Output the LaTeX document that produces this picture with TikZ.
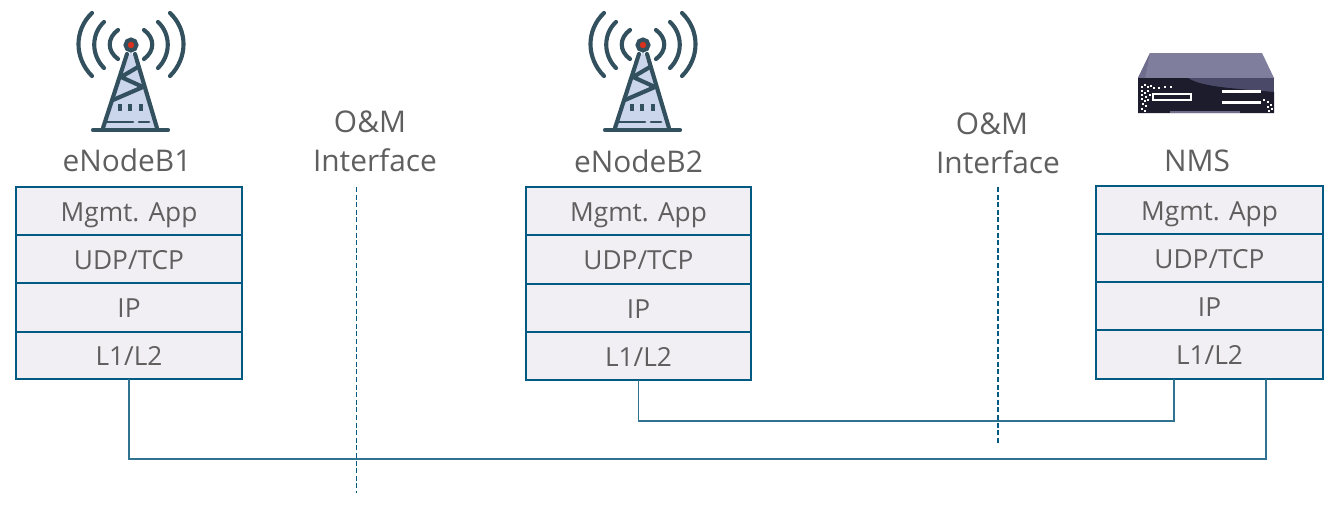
\documentclass[tikz,border=0pt]{standalone}
\usepackage{fontspec}
\setmainfont{Open Sans}
\definecolor{edge}{HTML}{005A82}
\definecolor{wire}{HTML}{2F7391}
\definecolor{ink}{HTML}{5F5F5F}
\definecolor{cellfill}{HTML}{F1EFF3}
\definecolor{mast}{HTML}{33505F}
\definecolor{mastfill}{HTML}{CBD5EC}
\definecolor{lamp}{HTML}{D8321E}
\definecolor{srvtop}{HTML}{7F7E9C}
\definecolor{srvtopb}{HTML}{6E6D8E}
\definecolor{srvdark}{HTML}{1C1C2C}
\definecolor{srvglow}{HTML}{4A4A68}
\tikzset{
  x=0.75pt,y=-0.75pt,
  cell/.style={draw=edge,line width=1.9pt,outer sep=0pt,fill=cellfill,text=ink,font=\fontsize{19.7pt}{21pt}\selectfont,inner sep=0pt,anchor=north west,text height=15.6pt,text depth=0pt},
  caption/.style={text=ink,font=\fontsize{22.4pt}{25pt}\selectfont,inner sep=0pt,anchor=center},
  link/.style={draw=wire,line width=0.9pt},
  cut/.style={draw=edge,line width=0.8pt,dash pattern=on 3.7pt off 2pt},
  mastline/.style={draw=mast,line width=3.1pt,line cap=round,line join=round},
  pics/tower/.style={code={
    \fill[mastfill] (131,50)--(157,128)--(103,128)--cycle;
    \foreach \s in {1,-1}{
      \draw[mastline] ({131-\s*39},13) .. controls ({131-\s*57},30) and ({131-\s*57},58) .. ({131-\s*39},76);
      \draw[mastline] ({131-\s*27},22) .. controls ({131-\s*40},34) and ({131-\s*40},55) .. ({131-\s*27},68);
      \draw[mastline] ({131-\s*13},30) .. controls ({131-\s*24},38) and ({131-\s*24},51) .. ({131-\s*13},59);
    }
    \draw[mastline] (127,54)--(103,128);
    \draw[mastline] (135,54)--(157,128);
    \draw[mastline] (93,130)--(168,130);
    \draw[mastline] (138,67)--(121,77)--(143,87)--(113,100);
    \draw[mastline,line cap=butt,line width=3pt] (120,104)--(120,111);
    \draw[mastline,line cap=butt,line width=3pt] (130,104)--(130,111);
    \draw[mastline,line cap=butt,line width=3pt] (141,104)--(141,111);
    \draw[mastline,line width=2.2pt] (107,122)--(133,122);
    \draw[mastline,line width=2.2pt] (139,122)--(149,122);
    \draw[draw=mast,line width=3pt,fill=lamp] (131,45) circle (5.5);
  }}
}
\begin{document}
\begin{tikzpicture}
\useasboundingbox (0,0) rectangle (1343,507);

% towers
\pic at (0,0) {tower};
\pic at (512,0) {tower};

% server
\fill[srvtop] (1150,53)--(1262,53)--(1274,78)--(1138,78)--cycle;
\fill[srvtopb] (1150,53)--(1138,78)--(1145,78)--cycle;
\fill[srvglow] (1138,78) rectangle (1274,113);
\fill[srvdark] (1138,78) -- (1188,78) .. controls (1200,86) and (1225,88) .. (1274,92) -- (1274,113) -- (1138,113) -- cycle;
\fill[srvtopb] (1170,110.5) rectangle (1240,113);
\draw[white,line width=1pt,fill=srvdark] (1153,94) rectangle (1191,100);
\fill[white] (1222,90) rectangle (1261,93);
\fill[white] (1222,101) rectangle (1261,104);
\foreach \px/\py in {1141/86,1144/84,1147/86,1150/85,1153/87,1141/90,1144/92,1147/90,1141/94,1145/96,1149/94,1141/98,1144/100,1147/99,1142/103,1145/105,1141/108,1144/110,1158/87,1164/86,1170/86,1263/99,1267/101,1270/104,1267/106,1271/108,1268/110}
  \fill[white] (\px,\py) rectangle ++(2,2);

% captions
\node[caption] (b1) at (127,160) {eNodeB1};
\node[caption] (b2) at (638.5,161) {eNodeB2};
\node[caption] (nms) at (1197,161) {NMS};
\node[caption] (om1) at (370,122) {O\&M};
\node[caption] (if1) at (375,160) {Interface};
\node[caption] (om2) at (992,124) {O\&M};
\node[caption] (if2) at (998,162) {Interface};

% interface cuts
\coordinate (cut1a) at (356.5,187);
\coordinate (cut1b) at (356.5,493);
\coordinate (cut2a) at (998,187);
\coordinate (cut2b) at (998,445);
\draw[cut] (cut1a)--(cut1b);
\draw[cut] (cut2a)--(cut2b);

% links
\coordinate (nmsA) at (1174,379);
\coordinate (nmsB) at (1266,379);
\coordinate (low) at (700,459);
\coordinate (mid) at (900,421);

% stacks
\node[cell,minimum width=169.5pt,minimum height=36pt] (a1) at (16,187) {Mgmt. App};
\node[cell,minimum width=169.5pt,minimum height=36pt] (a2) at (16,235) {UDP/TCP};
\node[cell,minimum width=169.5pt,minimum height=36.75pt] (a3) at (16,283) {IP};
\node[cell,minimum width=169.5pt,minimum height=35.25pt] (a4) at (16,332) {L1/L2};

\node[cell,minimum width=168.75pt,minimum height=36pt] (c1) at (526,187) {Mgmt. App};
\node[cell,minimum width=168.75pt,minimum height=36.75pt] (c2) at (526,235) {UDP/TCP};
\node[cell,minimum width=168.75pt,minimum height=36pt] (c3) at (526,284) {IP};
\node[cell,minimum width=168.75pt,minimum height=36pt] (c4) at (526,332) {L1/L2};

\node[cell,minimum width=170.25pt,minimum height=36pt] (n1) at (1096,186) {Mgmt. App};
\node[cell,minimum width=170.25pt,minimum height=36pt] (n2) at (1096,234) {UDP/TCP};
\node[cell,minimum width=170.25pt,minimum height=36pt] (n3) at (1096,282) {IP};
\node[cell,minimum width=170.25pt,minimum height=36.75pt] (n4) at (1096,330) {L1/L2};

\draw[link] (a4.south) |- (low) -| (nmsB);
\draw[link] (c4.south) |- (mid) -| (nmsA);
\end{tikzpicture}
\end{document}
